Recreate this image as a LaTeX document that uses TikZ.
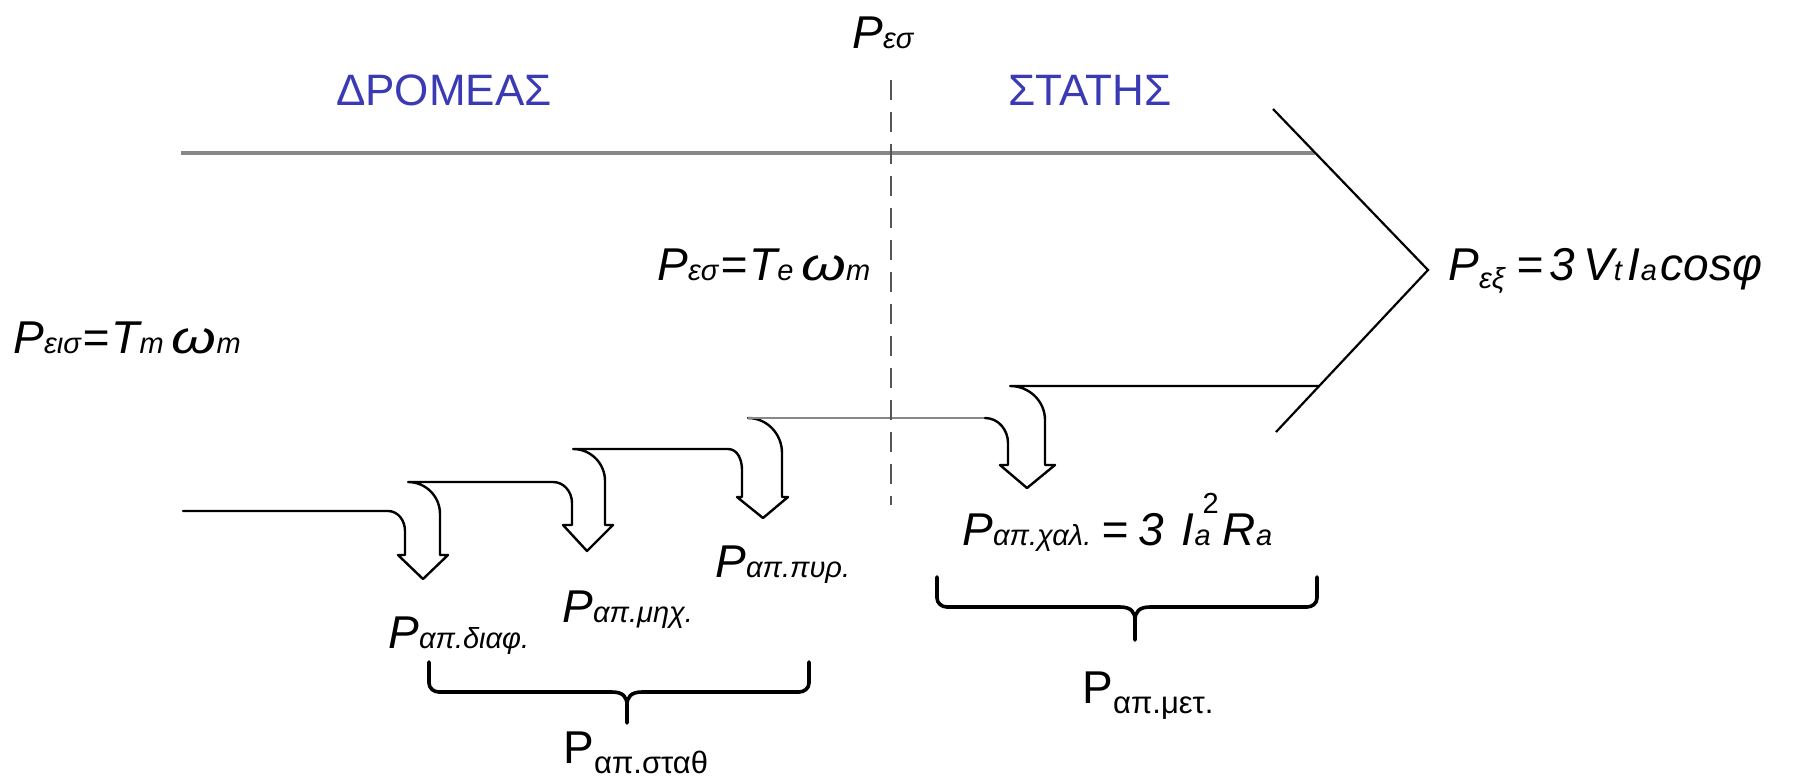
\documentclass[tikz,border=0pt]{standalone}
\usepackage{fontspec}
\usepackage{graphicx}
\setmainfont{Liberation Sans}
\definecolor{titleblue}{RGB}{58,58,180}
\definecolor{lgray}{RGB}{135,135,135}
\definecolor{dgray}{RGB}{85,85,85}
\newcommand{\bigf}{\fontsize{23}{23}\selectfont}
\newcommand{\smf}{\fontsize{14.5}{14.5}\selectfont}
\newcommand{\usmf}{\fontsize{15.5}{15.5}\selectfont}
\newcommand{\wideomega}{\scalebox{1.25}[1]{ω}}
\begin{document}
\begin{tikzpicture}[x=0.5pt,y=-0.5pt,
  lbl/.style={inner sep=0pt, anchor=base west, font=\bigf\itshape},
  ulbl/.style={inner sep=0pt, anchor=base west, font=\bigf},
  sidetitle/.style={inner sep=0pt, anchor=base, font=\fontsize{22}{22}\selectfont, text=titleblue},
  flow/.style={line width=1.2pt, line join=round, line cap=round},
  band/.style={line width=1.7pt, draw=lgray},
  chev/.style={line width=1.1pt, line join=miter},
  brace/.style={line width=1.8pt, line join=round, line cap=round},
  split/.style={line width=1.3pt, draw=dgray, dash pattern=on 10pt off 6pt}]
\useasboundingbox (0,0) rectangle (1800,778);

% ---- key coordinates
\coordinate (ct) at (1273,109);
\coordinate (tip) at (1428,270);
\coordinate (cb) at (1276,432);
\coordinate (topL) at (181,153);
\coordinate (topR) at (1315,153);
\coordinate (lowL) at (183,511);
\coordinate (lvl3) at (748,418);
\coordinate (lvl4) at (985,418);
\coordinate (botR) at (1319,386);
\coordinate (dashT) at (891,80);
\coordinate (dashB) at (891,505);

% ---- power band
\draw[band] (topL) -- (topR);
\draw[chev] (ct) -- (tip) -- (cb);

% ---- staircase with loss arrows
\draw[flow] (lowL) -- (388,511) to[out=0,in=90] (405,531) -- (405,555) -- (398,555)
  -- (423,579) -- (448,555) -- (440,555) -- (440,514) to[out=90,in=0] (408,482)
  -- (553,482) to[out=0,in=90] (572,503) -- (572,525) -- (563,525)
  -- (587,551) -- (613,525) -- (605,525) -- (605,481) to[out=90,in=0] (573,449)
  -- (728,449) to[out=0,in=90] (742,470) -- (742,497) -- (737,497)
  -- (763,518) -- (788,497) -- (782,497) -- (782,453) to[out=90,in=0] (lvl3);
\draw[line width=1pt, draw=lgray] (lvl3) -- (lvl4);
\draw[flow] (lvl4) to[out=0,in=90] (1008,443) -- (1008,465) -- (1000,465)
  -- (1027,488) -- (1055,465) -- (1045,465) -- (1045,420) to[out=90,in=0] (1010,386)
  -- (botR);

% ---- dashed separation
\draw[split] (dashT) -- (dashB);

% ---- braces
\draw[brace] (429,662) -- (429,683) to[out=-90,in=180] (439,692) -- (612,692)
  .. controls (623,692) and (627,697) .. (627,705) -- (627,723);
\draw[brace] (809,662) -- (809,683) to[out=-90,in=0] (799,692) -- (642,692)
  .. controls (631,692) and (627,697) .. (627,705);
\draw[brace] (937,577) -- (937,598) to[out=-90,in=180] (947,607) -- (1120,607)
  .. controls (1131,607) and (1135,612) .. (1135,620) -- (1135,640);
\draw[brace] (1317,577) -- (1317,598) to[out=-90,in=0] (1307,607) -- (1150,607)
  .. controls (1139,607) and (1135,612) .. (1135,620);

% ---- labels
\node[sidetitle] (rotor) at (444,105) {ΔΡΟΜΕΑΣ};
\node[sidetitle] (stator) at (1090,105) {ΣΤΑΤΗΣ};
\node[lbl] (pag) at (852,48) {P{\smf εσ}};
\node[lbl] (pagm) at (657,280) {P{\smf εσ}\hspace{1pt}=\hspace{1pt}T{\smf e}\hspace{4pt}\wideomega{\smf m}};
\node[lbl] (pin) at (13,353) {P{\smf εισ}\hspace{1pt}=\hspace{1pt}T{\smf m}\hspace{4pt}\wideomega{\smf m}};
\node[lbl] (pout) at (1448,280) {P\raisebox{-4pt}{\smf εξ}\hspace{6pt}=\hspace{3pt}3\hspace{4pt}V{\smf t}\hspace{3pt}I{\smf a}\hspace{2pt}cosφ};
\node[lbl] (pdiaf) at (388,648) {P{\smf απ.διαφ.}};
\node[lbl] (pmhx) at (562,622) {P{\smf απ.μηχ.}};
\node[lbl] (ppyr) at (715,577) {P{\smf απ.πυρ.}};
\node[lbl] (pcu) at (962,545) {P{\smf απ.χαλ.}\hspace{5pt}=\hspace{5pt}3\hspace{9pt}I{\smf a}\hspace{-4pt}\raisebox{16pt}{\smf\upshape 2}\hspace{2pt}R{\smf a}};
\node[ulbl] (pconst) at (563,763) {P\raisebox{-5pt}{\usmf απ.σταθ}};
\node[ulbl] (pvar) at (1082,703) {P\raisebox{-5pt}{\usmf απ.μετ.}};
\end{tikzpicture}
\end{document}
